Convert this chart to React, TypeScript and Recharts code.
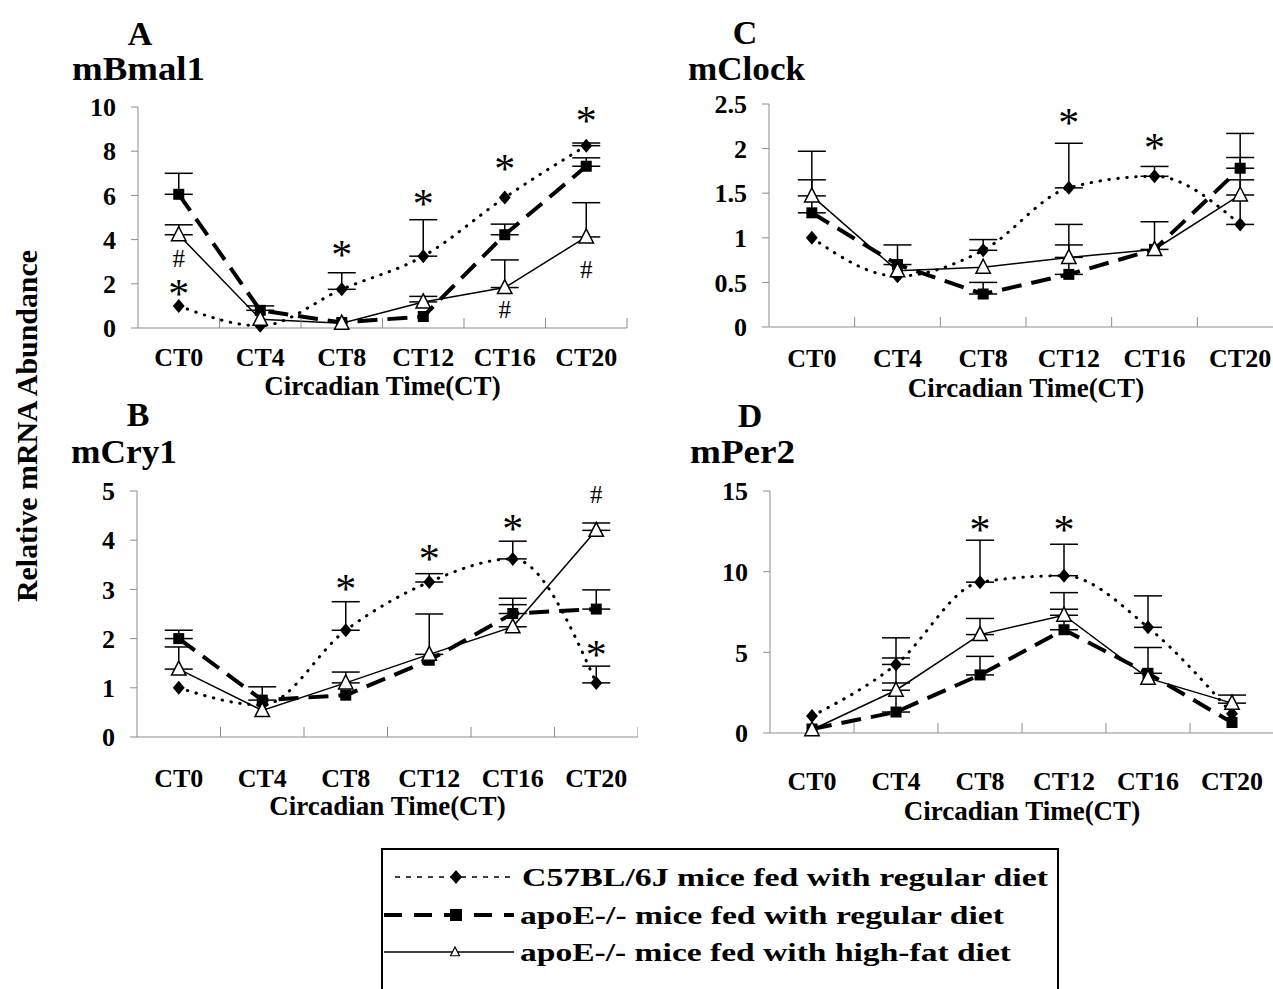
import React from "react";
import { ErrorBar, Label, Line, LineChart, ReferenceDot, XAxis, YAxis } from "recharts";

const serif = '"Liberation Serif", "Times New Roman", serif';
const axisGray = "#8c8c8c";

const categories = ["CT0", "CT4", "CT8", "CT12", "CT16", "CT20"];
const seriesNames = [
  "C57BL/6J mice fed with regular diet",
  "apoE-/- mice fed with regular diet",
  "apoE-/- mice fed with high-fat diet",
];

// A  mBmal1
const bmalC57 = [1.0, 0.1, 1.75, 3.25, 5.9, 8.25];
const bmalC57Err = [null, null, 0.75, 1.65, null, 0.12];
const bmalApo = [6.05, 0.8, 0.25, 0.52, 4.22, 7.32];
const bmalApoErr = [0.95, 0.2, null, null, 0.48, 0.38];
const bmalHf = [4.22, 0.4, 0.22, 1.18, 1.83, 4.12];
const bmalHfErr = [0.45, null, null, 0.25, 1.25, 1.55];

// B  mCry1
const cryC57 = [1.0, 0.65, 2.17, 3.15, 3.62, 1.1];
const cryC57Err = [null, null, 0.58, 0.17, 0.36, 0.34];
const cryApo = [2.0, 0.75, 0.85, 1.56, 2.51, 2.6];
const cryApoErr = [0.17, 0.27, null, null, 0.31, 0.39];
const cryHf = [1.38, 0.54, 1.1, 1.68, 2.24, 4.2];
const cryHfErr = [0.45, null, 0.22, 0.82, 0.45, 0.15];

// C  mClock
const clockC57 = [1.0, 0.57, 0.86, 1.56, 1.69, 1.15];
const clockC57Err = [null, null, 0.12, 0.5, 0.11, 0.5];
const clockApo = [1.28, 0.7, 0.37, 0.59, 0.87, 1.78];
const clockApoErr = [0.37, 0.22, 0.13, 0.33, null, 0.39];
const clockHf = [1.47, 0.63, 0.67, 0.78, 0.87, 1.48];
const clockHfErr = [0.5, null, null, 0.37, 0.31, 0.42];

// D  mPer2
const perC57 = [1.05, 4.25, 9.35, 9.75, 6.55, 1.2];
const perC57Err = [null, 1.65, 2.6, 1.95, 1.95, null];
const perApo = [0.25, 1.3, 3.6, 6.4, 3.7, 0.65];
const perApoErr = [null, 1.8, 1.15, 1.27, 1.6, null];
const perHf = [0.2, 2.65, 6.1, 7.3, 3.4, 1.85];
const perHfErr = [null, 2.0, 1.0, 1.4, null, 0.5];

type Mark = { at: number; y: number; sym: string };

const bmalMarks: Mark[] = [
  { at: 0, y: 1.85, sym: "*" },
  { at: 0, y: 3.15, sym: "#" },
  { at: 2, y: 3.6, sym: "*" },
  { at: 3, y: 5.95, sym: "*" },
  { at: 4, y: 7.5, sym: "*" },
  { at: 4, y: 0.85, sym: "#" },
  { at: 5, y: 9.7, sym: "*" },
  { at: 5, y: 2.65, sym: "#" },
];
const cryMarks: Mark[] = [
  { at: 2, y: 3.15, sym: "*" },
  { at: 3, y: 3.77, sym: "*" },
  { at: 4, y: 4.38, sym: "*" },
  { at: 5, y: 4.92, sym: "#" },
  { at: 5, y: 1.81, sym: "*" },
];
const clockMarks: Mark[] = [
  { at: 3, y: 2.36, sym: "*" },
  { at: 4, y: 2.08, sym: "*" },
];
const perMarks: Mark[] = [
  { at: 2, y: 13.0, sym: "*" },
  { at: 3, y: 13.0, sym: "*" },
];

const xTicks = categories.flatMap((_, i) => [i + 0.5, i + 1]);

const upper = (e: number | null) => (e == null ? null : [0, e]);

function buildRows(
  c57: number[], c57Err: (number | null)[],
  apo: number[], apoErr: (number | null)[],
  hf: number[], hfErr: (number | null)[],
) {
  return categories.map((name, i) => ({
    x: i + 0.5,
    name,
    c57: c57[i],
    c57Err: upper(c57Err[i]),
    apo: apo[i],
    apoErr: upper(apoErr[i]),
    hf: hf[i],
    hfErr: upper(hfErr[i]),
  }));
}

function diamondPath(cx: number, cy: number, s: number) {
  return `M${cx},${cy - s} L${cx + s * 0.85},${cy} L${cx},${cy + s} L${cx - s * 0.85},${cy} Z`;
}
function trianglePath(cx: number, cy: number, s: number) {
  return `M${cx},${cy - s} L${cx + s * 0.9},${cy + s * 0.75} L${cx - s * 0.9},${cy + s * 0.75} Z`;
}

const diamondDot = (p: any) => <path key={`dm-${p.index}`} d={diamondPath(p.cx, p.cy, 7)} fill="#000" />;
const squareDot = (p: any) => <rect key={`sq-${p.index}`} x={p.cx - 5.5} y={p.cy - 5.5} width={11} height={11} fill="#000" />;
const triangleDot = (p: any) => (
  <path key={`tr-${p.index}`} d={trianglePath(p.cx, p.cy, 8)} fill="#fff" stroke="#000" strokeWidth={1.5} />
);

function markShape(sym: string) {
  return (p: any) =>
    sym === "*" ? (
      <text x={p.cx} y={p.cy + 21} textAnchor="middle" fontFamily={serif} fontSize={42} fill="#000">
        *
      </text>
    ) : (
      <text x={p.cx} y={p.cy + 8.5} textAnchor="middle" fontFamily={serif} fontSize={25} fill="#000">
        #
      </text>
    );
}

function makeXTick(labelDy: number) {
  return function XTick(props: any) {
    const { x, y, payload } = props;
    const v = payload.value as number;
    if (Number.isInteger(v)) {
      return <line x1={x} x2={x} y1={y} y2={y - 10} stroke={axisGray} strokeWidth={1} />;
    }
    return (
      <text x={x} y={y + labelDy} textAnchor="middle" fontFamily={serif} fontWeight="bold" fontSize={26} fill="#000">
        {categories[Math.floor(v)]}
      </text>
    );
  };
}

type PanelProps = {
  left: number;
  top: number;
  width: number;
  height: number;
  yWidth: number;
  xHeight: number;
  right: number;
  rows: ReturnType<typeof buildRows>;
  domain: [number, number];
  yTicks: number[];
  marks: Mark[];
  labelDy: number;
  titleDy: number;
};

function Panel({ left, top, width, height, yWidth, xHeight, right, rows, domain, yTicks, marks, labelDy, titleDy }: PanelProps) {
  return (
    <div style={{ position: "absolute", left, top }}>
      <LineChart width={width} height={height} data={rows} margin={{ top: 20, right, left: 0, bottom: 0 }}>
        <XAxis
          type="number"
          dataKey="x"
          domain={[0, 6]}
          ticks={xTicks}
          interval={0}
          height={xHeight}
          stroke={axisGray}
          tickLine={false}
          tickSize={0}
          tickMargin={0}
          tick={makeXTick(labelDy)}
        >
          <Label
            value="Circadian Time(CT)"
            position="insideTop"
            offset={titleDy}
            fontFamily={serif}
            fontWeight="bold"
            fontSize={27}
            fill="#000"
          />
        </XAxis>
        <YAxis
          type="number"
          domain={domain}
          ticks={yTicks}
          interval={0}
          width={yWidth}
          stroke={axisGray}
          tickSize={7}
          tickMargin={15}
          tick={{ fill: "#000", fontSize: 26, fontWeight: "bold", fontFamily: serif }}
        />
        <Line
          type="monotone"
          dataKey="c57"
          name={seriesNames[0]}
          stroke="#000"
          strokeWidth={3}
          strokeDasharray="0.5 8.5"
          strokeLinecap="round"
          dot={diamondDot}
          isAnimationActive={false}
        >
          <ErrorBar dataKey="c57Err" width={14} stroke="#000" strokeWidth={1.5} />
        </Line>
        <Line
          type="linear"
          dataKey="apo"
          name={seriesNames[1]}
          stroke="#000"
          strokeWidth={4}
          strokeDasharray="20 10"
          dot={squareDot}
          isAnimationActive={false}
        >
          <ErrorBar dataKey="apoErr" width={14} stroke="#000" strokeWidth={1.5} />
        </Line>
        <Line
          type="linear"
          dataKey="hf"
          name={seriesNames[2]}
          stroke="#000"
          strokeWidth={1.5}
          dot={triangleDot}
          isAnimationActive={false}
        >
          <ErrorBar dataKey="hfErr" width={14} stroke="#000" strokeWidth={1.5} />
        </Line>
        {marks.map((m, i) => (
          <ReferenceDot key={i} x={m.at + 0.5} y={m.y} r={0} ifOverflow="visible" shape={markShape(m.sym)} />
        ))}
      </LineChart>
    </div>
  );
}

const titleStyle = { fontFamily: serif, fontWeight: "bold" as const, fill: "#000" };

export default function App() {
  return (
    <div style={{ position: "absolute", left: 0, top: 0, width: 1273, height: 989, overflow: "hidden", background: "#fff" }}>
      <svg width={1273} height={989} style={{ position: "absolute", left: 0, top: 0 }}>
        <text x={140} y={45} textAnchor="middle" fontSize={34} {...titleStyle}>A</text>
        <text x={72} y={80} fontSize={34} textLength={133} lengthAdjust="spacingAndGlyphs" {...titleStyle}>mBmal1</text>
        <text x={745} y={44} textAnchor="middle" fontSize={34} {...titleStyle}>C</text>
        <text x={688} y={80} fontSize={34} textLength={117} lengthAdjust="spacingAndGlyphs" {...titleStyle}>mClock</text>
        <text x={138} y={426} textAnchor="middle" fontSize={34} {...titleStyle}>B</text>
        <text x={71} y={463} fontSize={34} textLength={106} lengthAdjust="spacingAndGlyphs" {...titleStyle}>mCry1</text>
        <text x={750} y={427} textAnchor="middle" fontSize={34} {...titleStyle}>D</text>
        <text x={690} y={463} fontSize={34} textLength={105} lengthAdjust="spacingAndGlyphs" {...titleStyle}>mPer2</text>
        <text
          transform="translate(37,426) rotate(-90)"
          textAnchor="middle"
          fontSize={29}
          textLength={352}
          lengthAdjust="spacingAndGlyphs"
          {...titleStyle}
        >
          Relative mRNA Abundance
        </text>

        <rect x={382} y={849} width={676} height={200} fill="none" stroke="#000" strokeWidth={2} />
        <line x1={395} x2={512} y1={877} y2={877} stroke="#000" strokeWidth={1.5} strokeDasharray="5 6" />
        <path d={diamondPath(456, 877, 7)} fill="#000" />
        <text x={522} y={886} fontSize={25} textLength={526} lengthAdjust="spacingAndGlyphs" {...titleStyle}>{seriesNames[0]}</text>
        <line x1={384} x2={514} y1={915} y2={915} stroke="#000" strokeWidth={4} strokeDasharray="18 12" />
        <rect x={450} y={909} width={12} height={12} fill="#000" />
        <text x={520} y={924} fontSize={25} textLength={484} lengthAdjust="spacingAndGlyphs" {...titleStyle}>{seriesNames[1]}</text>
        <line x1={384} x2={514} y1={952} y2={952} stroke="#000" strokeWidth={1.5} />
        <path d={trianglePath(455, 952, 5)} fill="#fff" stroke="#000" strokeWidth={1.2} />
        <text x={520} y={961} fontSize={25} textLength={491} lengthAdjust="spacingAndGlyphs" {...titleStyle}>{seriesNames[2]}</text>
      </svg>

      <Panel
        left={60} top={87} width={577} height={321} yWidth={78} xHeight={80} right={10}
        rows={buildRows(bmalC57, bmalC57Err, bmalApo, bmalApoErr, bmalHf, bmalHfErr)}
        domain={[0, 10]} yTicks={[0, 2, 4, 6, 8, 10]} marks={bmalMarks} labelDy={38} titleDy={48}
      />
      <Panel
        left={690} top={84} width={593} height={323} yWidth={79} xHeight={80} right={0}
        rows={buildRows(clockC57, clockC57Err, clockApo, clockApoErr, clockHf, clockHfErr)}
        domain={[0, 2.5]} yTicks={[0, 0.5, 1, 1.5, 2, 2.5]} marks={clockMarks} labelDy={40} titleDy={51}
      />
      <Panel
        left={60} top={471} width={578} height={356} yWidth={77} xHeight={90} right={0}
        rows={buildRows(cryC57, cryC57Err, cryApo, cryApoErr, cryHf, cryHfErr)}
        domain={[0, 5]} yTicks={[0, 1, 2, 3, 4, 5]} marks={cryMarks} labelDy={50} titleDy={59}
      />
      <Panel
        left={690} top={471} width={584} height={370} yWidth={80} xHeight={108} right={0}
        rows={buildRows(perC57, perC57Err, perApo, perApoErr, perHf, perHfErr)}
        domain={[0, 15]} yTicks={[0, 5, 10, 15]} marks={perMarks} labelDy={57} titleDy={68}
      />
    </div>
  );
}
